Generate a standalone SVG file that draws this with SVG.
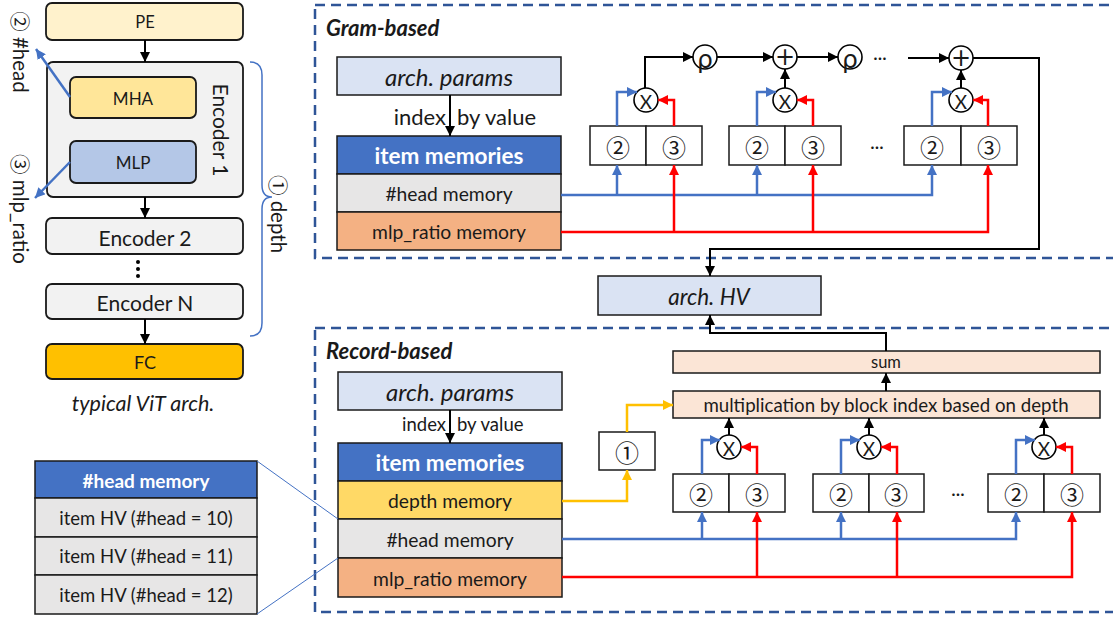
<svg xmlns="http://www.w3.org/2000/svg" width="1113" height="617" viewBox="0 0 1113 617">
<defs>
<style>
text{font-family:Lato,"Liberation Sans",sans-serif;fill:#1a1a1a;text-anchor:middle;dominant-baseline:central}
.cn{font-family:"Noto Sans CJK JP","DejaVu Sans",sans-serif}
.sym{font-family:"DejaVu Sans",sans-serif}
.bx{stroke:#1a1a1a;stroke-width:1.8}
.rb{stroke:#1a1a1a;stroke-width:1.5}
.it{font-style:italic}
.wb{fill:#fff;font-weight:bold}
.dash{fill:none;stroke:#2F5597;stroke-width:2.5;stroke-dasharray:10 6}
.k{fill:none;stroke:#000;stroke-width:2}
.b{fill:none;stroke:#4472C4;stroke-width:2.5}
.r{fill:none;stroke:#FF0000;stroke-width:2.5}
.y{fill:none;stroke:#FFC000;stroke-width:2.5}
.op{fill:#fff;stroke:#000;stroke-width:1.6}
</style>
<marker id="ak" viewBox="0 0 10 10" refX="10" refY="5" markerWidth="10" markerHeight="10" markerUnits="userSpaceOnUse" orient="auto"><path d="M0,0 L10,5 L0,10 z" fill="#000"/></marker>
<marker id="ab" viewBox="0 0 10 10" refX="10" refY="5" markerWidth="10" markerHeight="10" markerUnits="userSpaceOnUse" orient="auto"><path d="M0,0 L10,5 L0,10 z" fill="#4472C4"/></marker>
<marker id="ar" viewBox="0 0 10 10" refX="10" refY="5" markerWidth="10" markerHeight="10" markerUnits="userSpaceOnUse" orient="auto"><path d="M0,0 L10,5 L0,10 z" fill="#FF0000"/></marker>
<marker id="ay" viewBox="0 0 10 10" refX="10" refY="5" markerWidth="10" markerHeight="10" markerUnits="userSpaceOnUse" orient="auto"><path d="M0,0 L10,5 L0,10 z" fill="#FFC000"/></marker>
</defs>

<!-- typical ViT architecture -->
<g id="vit-pe"><rect class="bx" x="46" y="3" width="197" height="37" rx="6" fill="#FFF2CC"/><text x="145" y="22" font-size="16.5">PE</text></g>
<g id="vit-encoder1"><rect class="bx" x="47" y="62" width="196" height="135" rx="6" fill="#F2F2F2"/><text x="221" y="130" font-size="21" transform="rotate(90 221 130)">Encoder 1</text></g>
<g id="vit-mha"><rect class="bx" x="70" y="77" width="126" height="41" rx="6" fill="#FFE699"/><text x="133" y="98" font-size="17">MHA</text></g>
<g id="vit-mlp"><rect class="bx" x="70" y="141" width="126" height="42" rx="6" fill="#B4C7E7"/><text x="133" y="162" font-size="17">MLP</text></g>
<g id="vit-encoder2"><rect class="bx" x="46" y="218" width="197" height="36" rx="6" fill="#F2F2F2"/><text x="145" y="237" font-size="21">Encoder 2</text></g>
<g id="vit-dots" fill="#000"><circle cx="138" cy="262" r="2"/><circle cx="138" cy="269" r="2"/><circle cx="138" cy="276" r="2"/></g>
<g id="vit-encoderN"><rect class="bx" x="46" y="284" width="197" height="35" rx="6" fill="#F2F2F2"/><text x="145" y="302" font-size="21">Encoder N</text></g>
<g id="vit-fc"><rect class="bx" x="46" y="344" width="197" height="35" rx="6" fill="#FFC000"/><text x="145" y="362" font-size="18">FC</text></g>
<g id="vit-caption"><text x="143" y="403" font-size="21.5" class="it">typical ViT arch.</text></g>
<g id="vit-labels">
<text x="21" y="52" font-size="20.5" transform="rotate(90 21 52)"><tspan class="cn">②</tspan> #head</text>
<text x="21" y="209" font-size="20.5" transform="rotate(90 21 209)"><tspan class="cn">③</tspan> mlp_ratio</text>
<text x="279" y="214" font-size="20.5" transform="rotate(90 279 214)"><tspan class="cn">①</tspan> depth</text>
<path d="M250,62 Q262,62 262,75 L262,185 Q262,197 272,197 Q262,197 262,209 L262,323 Q262,336 250,336" fill="none" stroke="#4472C4" stroke-width="1.5"/>
</g>

<!-- dashed frames -->
<g id="frame-gram"><rect class="dash" x="315" y="5" width="810" height="253"/><text x="326" y="27" font-size="22" font-weight="bold" class="it" style="text-anchor:start">Gram-based</text></g>
<g id="frame-record"><rect class="dash" x="315" y="328" width="810" height="284"/><text x="326" y="350" font-size="22" font-weight="bold" class="it" style="text-anchor:start">Record-based</text></g>

<!-- gram-based encoder -->
<g id="gram-params"><rect class="rb" x="337" y="57" width="224" height="38" fill="#DAE3F3"/><text x="449" y="76" font-size="24" class="it">arch. params</text></g>
<g id="gram-index"><text x="446" y="116" font-size="22" style="text-anchor:end">index</text><text x="457" y="116" font-size="22" style="text-anchor:start">by value</text></g>
<g id="gram-memories">
<rect class="rb" x="337" y="136" width="224" height="38" fill="#4472C4"/><text x="449" y="155" font-size="22.5" class="wb">item memories</text>
<rect class="rb" x="337" y="174" width="224" height="38" fill="#E7E6E6"/><text x="449" y="193" font-size="19.3">#head memory</text>
<rect class="rb" x="337" y="212" width="224" height="38" fill="#F4B183"/><text x="449" y="231" font-size="19.3">mlp_ratio memory</text>
</g>
<g id="gram-block1"><rect class="rb" x="590" y="126" width="56" height="39" fill="#fff"/><rect class="rb" x="646" y="126" width="56" height="39" fill="#fff"/><text class="cn" x="618" y="146" font-size="24">②</text><text class="cn" x="674" y="146" font-size="24">③</text></g>
<g id="gram-block2"><rect class="rb" x="729" y="126" width="56" height="39" fill="#fff"/><rect class="rb" x="785" y="126" width="56" height="39" fill="#fff"/><text class="cn" x="757" y="146" font-size="24">②</text><text class="cn" x="813" y="146" font-size="24">③</text></g>
<g id="gram-block3"><rect class="rb" x="904" y="126" width="57" height="39" fill="#fff"/><rect class="rb" x="961" y="126" width="56" height="39" fill="#fff"/><text class="cn" x="932" y="146" font-size="24">②</text><text class="cn" x="989" y="146" font-size="24">③</text></g>
<g id="gram-ellipsis"><text x="877" y="146" font-size="17">···</text><text x="880" y="57" font-size="17">···</text></g>
<g id="gram-ops">
<circle class="op" cx="646" cy="100" r="12"/><text x="646" y="101" font-size="19">X</text>
<circle class="op" cx="785" cy="100" r="12"/><text x="785" y="101" font-size="19">X</text>
<circle class="op" cx="961" cy="100" r="12"/><text x="961" y="101" font-size="19">X</text>
<circle class="op" cx="705" cy="57" r="12"/><text class="sym" x="705" y="59" font-size="25">ρ</text>
<circle class="op" cx="785" cy="57" r="12"/><text class="sym" x="785" y="57" font-size="24">+</text>
<circle class="op" cx="850" cy="57" r="12"/><text class="sym" x="850" y="59" font-size="25">ρ</text>
<circle class="op" cx="961" cy="58" r="12"/><text class="sym" x="961" y="58" font-size="24">+</text>
</g>

<!-- encoded architecture hypervector -->
<g id="arch-hv"><rect class="rb" x="598" y="276" width="223" height="39" fill="#DAE3F3"/><text x="709" y="296" font-size="22.5" class="it">arch. HV</text></g>

<!-- record-based encoder -->
<g id="rec-params"><rect class="rb" x="338" y="372" width="224" height="38" fill="#DAE3F3"/><text x="450" y="391" font-size="24" class="it">arch. params</text></g>
<g id="rec-index"><text x="446" y="424" font-size="18.5" style="text-anchor:end">index</text><text x="457" y="424" font-size="18.5" style="text-anchor:start">by value</text></g>
<g id="rec-memories">
<rect class="rb" x="338" y="443" width="224" height="38" fill="#4472C4"/><text x="450" y="462" font-size="22.5" class="wb">item memories</text>
<rect class="rb" x="338" y="481" width="224" height="38" fill="#FFD966"/><text x="450" y="500" font-size="19.3">depth memory</text>
<rect class="rb" x="338" y="519" width="224" height="39" fill="#E7E6E6"/><text x="450" y="539" font-size="19.3">#head memory</text>
<rect class="rb" x="338" y="558" width="224" height="39" fill="#F4B183"/><text x="450" y="578" font-size="19.3">mlp_ratio memory</text>
</g>
<g id="rec-depth"><rect class="rb" x="599" y="432" width="56" height="38" fill="#fff"/><text class="cn" x="627" y="451" font-size="24">①</text></g>
<g id="rec-sum"><rect class="rb" x="673" y="351" width="427" height="22" fill="#FBE5D6"/><text x="886" y="362" font-size="16.5">sum</text></g>
<g id="rec-mult"><rect class="rb" x="673" y="391" width="427" height="27" fill="#FBE5D6"/><text x="886" y="405" font-size="18.7">multiplication by block index based on depth</text></g>
<g id="rec-block1"><rect class="rb" x="673" y="474" width="56" height="38" fill="#fff"/><rect class="rb" x="729" y="474" width="56" height="38" fill="#fff"/><text class="cn" x="701" y="493" font-size="24">②</text><text class="cn" x="757" y="493" font-size="24">③</text></g>
<g id="rec-block2"><rect class="rb" x="813" y="474" width="56" height="38" fill="#fff"/><rect class="rb" x="869" y="474" width="55" height="38" fill="#fff"/><text class="cn" x="841" y="493" font-size="24">②</text><text class="cn" x="896" y="493" font-size="24">③</text></g>
<g id="rec-block3"><rect class="rb" x="988" y="474" width="56" height="38" fill="#fff"/><rect class="rb" x="1044" y="474" width="56" height="38" fill="#fff"/><text class="cn" x="1016" y="493" font-size="24">②</text><text class="cn" x="1072" y="493" font-size="24">③</text></g>
<g id="rec-ellipsis"><text x="958" y="493" font-size="17">···</text></g>
<g id="rec-ops">
<circle class="op" cx="729" cy="447" r="12"/><text x="729" y="448" font-size="19">X</text>
<circle class="op" cx="869" cy="447" r="12"/><text x="869" y="448" font-size="19">X</text>
<circle class="op" cx="1044" cy="447" r="12"/><text x="1044" y="448" font-size="19">X</text>
</g>

<!-- #head memory detail -->
<g id="head-memory-table">
<rect class="rb" x="35" y="461" width="222" height="37" fill="#4472C4"/><text x="146" y="480" font-size="19" class="wb">#head memory</text>
<rect class="rb" x="35" y="498" width="222" height="39" fill="#E7E6E6"/><text x="146" y="518" font-size="18.5">item HV (#head = 10)</text>
<rect class="rb" x="35" y="537" width="222" height="38" fill="#E7E6E6"/><text x="146" y="556" font-size="18.5">item HV (#head = 11)</text>
<rect class="rb" x="35" y="575" width="222" height="39" fill="#E7E6E6"/><text x="146" y="595" font-size="18.5">item HV (#head = 12)</text>
</g>

<g id="connectors">
<!-- ViT -->
<path class="k" d="M145,40 V62" marker-end="url(#ak)"/>
<path class="k" d="M145,197 V218" marker-end="url(#ak)"/>
<path class="k" d="M145,319 V344" marker-end="url(#ak)"/>
<path class="b" d="M70,97 L36,49" stroke-width="2" marker-end="url(#ab)"/>
<path class="b" d="M70,162 L35,198" stroke-width="2" marker-end="url(#ab)"/>
<path d="M257,461 L338,519 M257,614 L338,558" fill="none" stroke="#4472C4" stroke-width="1"/>

<!-- gram-based -->
<path class="k" d="M450,95 V136" marker-end="url(#ak)"/>
<path class="b" d="M561,195 H932 V165" marker-end="url(#ab)"/>
<path class="b" d="M617,195 V165" marker-end="url(#ab)"/>
<path class="b" d="M757,195 V165" marker-end="url(#ab)"/>
<path class="r" d="M561,232 H988 V165" marker-end="url(#ar)"/>
<path class="r" d="M674,232 V165" marker-end="url(#ar)"/>
<path class="r" d="M813,232 V165" marker-end="url(#ar)"/>
<path class="b" d="M617,126 V92 H637" marker-end="url(#ab)"/>
<path class="r" d="M674,126 V100 H658" marker-end="url(#ar)"/>
<path class="b" d="M757,126 V92 H776" marker-end="url(#ab)"/>
<path class="r" d="M813,126 V100 H797" marker-end="url(#ar)"/>
<path class="b" d="M932,126 V92 H952" marker-end="url(#ab)"/>
<path class="r" d="M988,126 V100 H973" marker-end="url(#ar)"/>
<path class="k" d="M645,88 V57 H693" marker-end="url(#ak)"/>
<path class="k" d="M717,57 H773" marker-end="url(#ak)"/>
<path class="k" d="M797,57 H838" marker-end="url(#ak)"/>
<path class="k" d="M908,58 H949" marker-end="url(#ak)"/>
<path class="k" d="M785,88 V69" marker-end="url(#ak)"/>
<path class="k" d="M961,88 V70" marker-end="url(#ak)"/>
<path class="k" d="M973,58 H1039 V249 H710 V276" marker-end="url(#ak)"/>

<!-- record-based -->
<path class="k" d="M450,410 V443" marker-end="url(#ak)"/>
<path class="k" d="M886,351 V333 H710 V315" marker-end="url(#ak)"/>
<path class="k" d="M886,391 V373" marker-end="url(#ak)"/>
<path class="y" d="M562,501 H627 V470" marker-end="url(#ay)"/>
<path class="y" d="M627,432 V405 H673" marker-end="url(#ay)"/>
<path class="b" d="M562,539 H1016 V512" marker-end="url(#ab)"/>
<path class="b" d="M702,539 V512" marker-end="url(#ab)"/>
<path class="b" d="M841,539 V512" marker-end="url(#ab)"/>
<path class="r" d="M562,577 H1072 V512" marker-end="url(#ar)"/>
<path class="r" d="M757,577 V512" marker-end="url(#ar)"/>
<path class="r" d="M897,577 V512" marker-end="url(#ar)"/>
<path class="b" d="M702,474 V440 H720" marker-end="url(#ab)"/>
<path class="r" d="M757,474 V447 H741" marker-end="url(#ar)"/>
<path class="b" d="M841,474 V440 H860" marker-end="url(#ab)"/>
<path class="r" d="M897,474 V447 H881" marker-end="url(#ar)"/>
<path class="b" d="M1016,474 V440 H1035" marker-end="url(#ab)"/>
<path class="r" d="M1072,474 V447 H1056" marker-end="url(#ar)"/>
<path class="k" d="M729,435 V418" marker-end="url(#ak)"/>
<path class="k" d="M869,435 V418" marker-end="url(#ak)"/>
<path class="k" d="M1044,435 V418" marker-end="url(#ak)"/>
</g>
</svg>
